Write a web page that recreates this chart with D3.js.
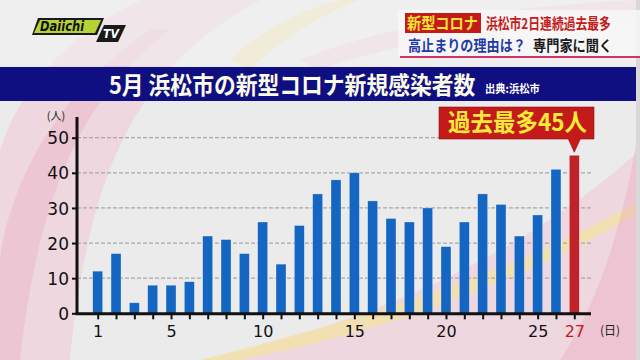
<!DOCTYPE html>
<html><head><meta charset="utf-8">
<script src="https://cdn.jsdelivr.net/npm/d3@7"></script>
<style>html,body{margin:0;padding:0;background:#ececec;}svg{display:block;font-family:"Noto Sans CJK JP","Noto Sans",sans-serif;}</style>
</head><body>
<script>
const days = d3.range(1, 28);
const cases = [12,17,3,8,8,9,22,21,17,26,14,25,34,38,40,32,27,26,30,19,26,34,31,22,28,41,45];
const yTicks = [0,10,20,30,40,50];
const xTickLabels = [1,5,10,15,20,25,27];
const title = "5月 浜松市の新型コロナ新規感染者数";
const source = "出典:浜松市";
const callout = "過去最多45人";

const W = 640, H = 360;
const svg = d3.select("body").append("svg").attr("width", W).attr("height", H);

// text with vertical stretch (condensed broadcast look)
function addText(parent, x, y, str, size, sy, fill, weight) {
  return parent.append("text").attr("transform", `translate(${x},${y}) scale(1,${sy})`)
    .attr("font-size", size).attr("font-weight", weight || 700).attr("fill", fill).text(str);
}

// background
svg.append("rect").attr("width", W).attr("height", H).attr("fill", "#ebebeb");
const deco = svg.append("g");
deco.append("path").attr("d", "M0,360 L0,150 C20,90 60,40 140,0 L260,0 C150,60 90,150 70,360 Z").attr("fill", "#f0c6d6").attr("opacity", 0.55);
deco.append("path").attr("d", "M0,260 C10,180 60,90 150,30 L170,30 C90,90 40,180 20,360 L0,360Z").attr("fill", "#e8a8be").attr("opacity", 0.35);
deco.append("path").attr("d", "M230,60 C260,30 300,10 340,0 L360,0 C320,15 280,40 250,70Z").attr("fill", "#f2e2a6").attr("opacity", 0.7);
deco.append("path").attr("d", "M300,60 C400,20 520,5 640,0 L640,20 C520,25 400,40 320,70Z").attr("fill", "#f0c6d6").attr("opacity", 0.6);
deco.append("path").attr("d", "M200,360 C350,330 520,260 640,150 L640,360Z").attr("fill", "#f0c6d6").attr("opacity", 0.55);
deco.append("path").attr("d", "M200,360 C360,320 520,270 640,200 L640,212 C520,285 370,335 240,360Z").attr("fill", "#f2e2a6").attr("opacity", 0.8);
deco.append("path").attr("d", "M560,360 C600,300 625,220 640,120 L640,360Z").attr("fill", "#e8a8be").attr("opacity", 0.4);
svg.append("rect").attr("x", 0).attr("y", 0).attr("width", W).attr("height", 66).attr("fill", "#f2f2f2").attr("opacity", 0.55);
svg.append("rect").attr("x", 636).attr("y", 0).attr("width", 4).attr("height", H).attr("fill", "#d8d8d8");

// logo
const logo = svg.append("g");
logo.append("path").attr("d", "M38,18 L104,18 L97,35 L32,35 Z").attr("fill", "#1a1a1a");
logo.append("path").attr("d", "M40,20 L101,20 L95,33 L34,33 Z").attr("fill", "#b5d334");
addText(logo, 40, 31, "Daiichi", 11.5, 1.2, "#111", 900).attr("font-style", "italic").attr("font-family", "'DejaVu Sans',sans-serif");
logo.append("path").attr("d", "M104,25 L126,25 L118,42 L96,42 Z").attr("fill", "#1a1a1a");
addText(logo, 103, 38, "TV", 11, 1.1, "#fff", 900).attr("font-style", "italic").attr("font-family", "'DejaVu Sans',sans-serif");

// headline box
const hb = svg.append("g");
hb.append("rect").attr("x", 398).attr("y", 10).attr("width", 242).attr("height", 47).attr("fill", "#f7f7f7").attr("opacity", 0.85);
hb.append("rect").attr("x", 400).attr("y", 56).attr("width", 240).attr("height", 2).attr("fill", "#d0336a");
hb.append("rect").attr("x", 405).attr("y", 13).attr("width", 76).attr("height", 20).attr("fill", "#c41a1a");
addText(hb, 407, 28.5, "新型コロナ", 14.2, 1.1, "#f5e634");
addText(hb, 486, 28.5, "浜松市2日連続過去最多", 11.8, 1.25, "#c41a1a");
addText(hb, 408, 51, "高止まりの理由は？", 13.1, 1.15, "#1f3aa8");
addText(hb, 533, 51, "専門家に聞く", 13.2, 1.15, "#1a1a1a");

// title band
svg.append("rect").attr("x", 0).attr("y", 67).attr("width", 636).attr("height", 34).attr("fill", "#0f0f82");
addText(svg, 109, 94, title, 21.8, 1.12, "#fbfbe8");
addText(svg, 485, 93, source, 10.3, 1.1, "#fff");

// scales
const x = d3.scaleLinear().domain([1, 27]).range([97.7, 574.3]);
const y = d3.scaleLinear().domain([0, 50]).range([313.3, 137.7]);
const axisX0 = 77, axisX1 = 591;

// grid
svg.append("g").selectAll("line").data(yTicks.filter(d => d > 0)).join("line")
  .attr("x1", axisX0).attr("x2", axisX1).attr("y1", d => y(d)).attr("y2", d => y(d))
  .attr("stroke", "#a8a8a8").attr("stroke-width", 1.2).attr("stroke-dasharray", "4,2");

// bars
const bw = 10;
svg.append("g").selectAll("rect").data(days).join("rect")
  .attr("x", d => x(d) - bw / 2).attr("width", bw)
  .attr("y", (d, i) => y(cases[i])).attr("height", (d, i) => y(0) - y(cases[i]))
  .attr("fill", d => d === 27 ? "#c0222a" : "#1466c2")
  .attr("stroke", "#ffffff").attr("stroke-opacity", 0.5).attr("stroke-width", 0.6);

// y axis
const ya = svg.append("g").attr("transform", `translate(${axisX0},0)`)
  .call(d3.axisLeft(y).tickValues(yTicks).tickSize(5).tickPadding(3));
ya.select(".domain").remove();
ya.selectAll(".tick line").attr("stroke", "#111").attr("stroke-width", 2);
ya.selectAll(".tick text").attr("font-size", 17).attr("font-weight", 500).attr("fill", "#111").attr("font-family", "'DejaVu Sans','Noto Sans',sans-serif").attr("dy", "0.36em");
svg.append("line").attr("x1", axisX0).attr("x2", axisX0).attr("y1", 117).attr("y2", 314.5).attr("stroke", "#111").attr("stroke-width", 3);
svg.append("text").attr("x", 56).attr("y", 120).attr("text-anchor", "middle").attr("font-size", 11).attr("fill", "#222").text("(人)");

// x axis
const xa = svg.append("g").attr("transform", `translate(0,${y(0)})`)
  .call(d3.axisBottom(x).tickValues(days).tickSize(6).tickFormat(d => xTickLabels.includes(d) ? d : "").tickPadding(6));
xa.select(".domain").remove();
xa.selectAll(".tick line").attr("stroke", "#111").attr("stroke-width", 2);
xa.selectAll(".tick text").attr("font-size", 16).attr("font-weight", 500).attr("font-family", "'DejaVu Sans','Noto Sans',sans-serif")
  .attr("fill", d => d === 27 ? "#c41a1a" : "#111");
svg.append("line").attr("x1", axisX0 - 1.5).attr("x2", axisX1).attr("y1", y(0) + 0.5).attr("y2", y(0) + 0.5).attr("stroke", "#111").attr("stroke-width", 3);
svg.append("text").attr("x", 610).attr("y", 335).attr("text-anchor", "middle").attr("font-size", 12).attr("fill", "#222").text("(日)");

// callout
const cx = x(27), cyTop = y(cases[26]);
const cg = svg.append("g");
cg.append("path").attr("d", `M439,107 L594,107 L594,139 L${cx + 6},139 L${cx},${cyTop - 3} L${cx - 6},139 L439,139 Z`)
  .attr("fill", "#c41a1a").attr("stroke", "#8a1010").attr("stroke-width", 0.6);
addText(cg, 448, 131, callout, 22.5, 1.05, "#f7ea3a");
</script>
</body></html>
